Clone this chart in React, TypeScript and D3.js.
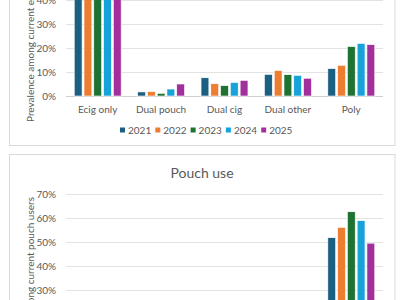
import React from "react";
import * as d3 from "d3";

const years = ["2021", "2022", "2023", "2024", "2025"];
const colors = ["#1b5f82", "#ed7d31", "#1e7232", "#17a2da", "#a2309c"];

const ecigCategories = ["Ecig only", "Dual pouch", "Dual cig", "Dual other", "Poly"];
const ecig2021 = [72, 1.7, 7.6, 9.0, 11.4];
const ecig2022 = [71, 1.8, 5.1, 10.6, 12.8];
const ecig2023 = [72, 1.1, 4.3, 8.9, 20.6];
const ecig2024 = [68, 2.9, 5.6, 8.6, 21.9];
const ecig2025 = [66, 5.0, 6.5, 7.4, 21.4];
const ecigTicks = [0, 10, 20, 30, 40, 50, 60, 70, 80];

const pouchCategories = ["Pouch only", "Dual ecig", "Dual cig", "Dual other", "Poly"];
const pouch2021 = [20, 12, 6, 8, 51.8];
const pouch2022 = [18, 13, 5, 9, 56.1];
const pouch2023 = [15, 14, 5, 8, 62.6];
const pouch2024 = [14, 15, 6, 8, 58.9];
const pouch2025 = [13, 16, 7, 7, 49.5];
const pouchTicks = [0, 10, 20, 30, 40, 50, 60, 70];

const FONT = "Lato, 'Open Sans', sans-serif";
const TEXT = "#595959";

type ChartProps = {
  top: number;
  bottom: number;
  y0: number; // pixel of 0%
  yMax: number;
  categories: string[];
  series: number[][];
  ticks: number[];
  title: string;
  ylabel: string;
  ylabelEnd: boolean;
  ylabelY: number;
  titleY: number;
};

function Chart(p: ChartProps) {
  const x0 = d3.scaleBand<string>().domain(p.categories).range([66, 383]).paddingInner(0.26).paddingOuter(0.13);
  const x1 = d3.scaleBand<string>().domain(years).range([0, x0.bandwidth()]).paddingInner(0.2);
  const pxPer = 2.4;
  const y = d3.scaleLinear().domain([0, p.yMax]).range([p.y0, p.y0 - p.yMax * pxPer]);
  return (
    <g>
      <rect x={9.5} y={p.top + 0.5} width={385.5} height={p.bottom - p.top} fill="#fff" stroke="#d9d9d9" strokeWidth={1} />
      {p.ticks.map((t) => (
        <g key={t}>
          <line x1={66} x2={383} y1={Math.round(y(t)) + 0.5} y2={Math.round(y(t)) + 0.5} stroke={t === 0 ? "#d0d0d0" : "#e3e3e3"} strokeWidth={1} />
          <text x={56} y={y(t)} dy="0.35em" textAnchor="end" fontSize={10} fill={TEXT} fontFamily={FONT}>{t + "%"}</text>
        </g>
      ))}
      {p.categories.map((c, ci) => (
        <g key={c}>
          {years.map((yr, yi) => {
            const v = p.series[yi][ci];
            return (
              <rect key={yr} x={(x0(c) as number) + (x1(yr) as number)} y={y(v)} width={x1.bandwidth()} height={y(0) - y(v)} fill={colors[yi]} stroke="#fff" strokeWidth={0.6} />
            );
          })}
          <text x={(x0(c) as number) + x0.bandwidth() / 2} y={p.y0 + 13} dy="0.35em" textAnchor="middle" fontSize={10} fill={TEXT} fontFamily={FONT}>{c}</text>
        </g>
      ))}
      <text x={202} y={p.titleY} textAnchor="middle" fontSize={14} fill={TEXT} fontFamily={FONT}>{p.title}</text>
      <text transform={`translate(34,${p.ylabelY}) rotate(-90)`} textAnchor={p.ylabelEnd ? "end" : "start"} fontSize={10} fill={TEXT} fontFamily={FONT}>{p.ylabel}</text>
      {years.map((yr, yi) => {
        const lx = 120 + yi * 35.3;
        const ly = p.y0 + 34;
        return (
          <g key={yr}>
            <rect x={lx} y={ly - 2.5} width={5} height={5} fill={colors[yi]} />
            <text x={lx + 8} y={ly} dy="0.35em" fontSize={10} fill={TEXT} fontFamily={FONT}>{yr}</text>
          </g>
        );
      })}
    </g>
  );
}

export default function App() {
  return (
    <svg width={400} height={300} style={{ position: "absolute", left: 0, top: 0 }}>
      <rect x={0} y={0} width={400} height={300} fill="#fff" />
      <Chart
        top={-160}
        bottom={145}
        y0={96}
        yMax={80}
        categories={ecigCategories}
        series={[ecig2021, ecig2022, ecig2023, ecig2024, ecig2025]}
        ticks={ecigTicks}
        title="E-cigarette use"
        ylabel="Prevalence among current e-cigarette users"
        ylabelEnd={false}
        ylabelY={122}
        titleY={-125}
      />
      <Chart
        top={154}
        bottom={440}
        y0={362}
        yMax={70}
        categories={pouchCategories}
        series={[pouch2021, pouch2022, pouch2023, pouch2024, pouch2025]}
        ticks={pouchTicks}
        title="Pouch use"
        ylabel="Prevalence among current pouch users"
        ylabelEnd={true}
        ylabelY={197}
        titleY={178}
      />
    </svg>
  );
}
